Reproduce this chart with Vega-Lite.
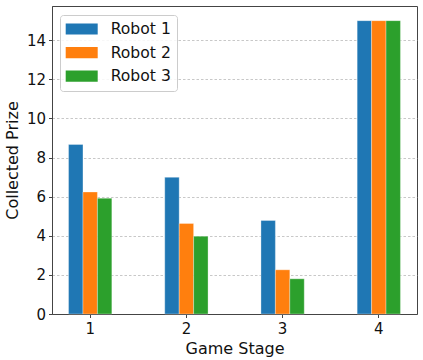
{
  "$schema": "https://vega.github.io/schema/vega-lite/v6.json",
  "width": 365,
  "height": 308,
  "autosize": "none",
  "padding": {"left": 52, "top": 6, "right": 6, "bottom": 46},
  "config": {
    "font": "DejaVu Sans",
    "view": {"stroke": "#444", "strokeWidth": 1},
    "axis": {
      "labelFont": "DejaVu Sans",
      "titleFont": "DejaVu Sans",
      "labelFontSize": 15,
      "titleFontSize": 16,
      "titleFontWeight": "normal",
      "labelColor": "#111",
      "titleColor": "#111",
      "tickColor": "#444",
      "tickSize": 3.5,
      "domainColor": "#444",
      "labelPadding": 3
    }
  },
  "data": {
    "values": [
      {"stage": "1", "robot": "Robot 1", "prize": 8.67},
      {"stage": "1", "robot": "Robot 2", "prize": 6.24},
      {"stage": "1", "robot": "Robot 3", "prize": 5.92},
      {"stage": "2", "robot": "Robot 1", "prize": 6.99},
      {"stage": "2", "robot": "Robot 2", "prize": 4.63},
      {"stage": "2", "robot": "Robot 3", "prize": 3.98},
      {"stage": "3", "robot": "Robot 1", "prize": 4.78},
      {"stage": "3", "robot": "Robot 2", "prize": 2.26},
      {"stage": "3", "robot": "Robot 3", "prize": 1.8},
      {"stage": "4", "robot": "Robot 1", "prize": 15},
      {"stage": "4", "robot": "Robot 2", "prize": 15},
      {"stage": "4", "robot": "Robot 3", "prize": 15}
    ]
  },
  "mark": {"type": "bar", "stroke": "#ffffff", "strokeOpacity": 0.4, "strokeWidth": 0.8},
  "encoding": {
    "x": {
      "field": "stage",
      "type": "ordinal",
      "scale": {"paddingInner": 0.55, "paddingOuter": 0.172},
      "axis": {"title": "Game Stage", "labelAngle": 0, "grid": false, "titlePadding": 4, "labelPadding": 4}
    },
    "xOffset": {
      "field": "robot",
      "type": "nominal",
      "scale": {"paddingInner": 0, "paddingOuter": 0}
    },
    "y": {
      "field": "prize",
      "type": "quantitative",
      "scale": {"domain": [0, 15.75], "nice": false, "zero": true},
      "axis": {
        "title": "Collected Prize",
        "values": [0, 2, 4, 6, 8, 10, 12, 14],
        "grid": true,
        "gridColor": "#b0b0b0",
        "gridDash": [2.5, 2],
        "gridWidth": 0.7,
        "titlePadding": 6
      }
    },
    "color": {
      "field": "robot",
      "type": "nominal",
      "scale": {"range": ["#1f77b4", "#ff7f0e", "#2ca02c"]},
      "legend": {
        "title": null,
        "orient": "none",
        "legendX": 8,
        "legendY": 9,
        "symbolType": "M-2,-0.7H2V0.7H-2Z",
        "symbolSize": 256,
        "symbolStrokeWidth": 0,
        "symbolOpacity": 1,
        "symbolOffset": 7.7,
        "labelOffset": 21,
        "labelFontSize": 15.6,
        "labelFont": "DejaVu Sans",
        "labelColor": "#111",
        "rowPadding": 6.6,
        "padding": 6,
        "fillColor": "rgba(255,255,255,0.85)",
        "strokeColor": "#cccccc",
        "cornerRadius": 3
      }
    }
  }
}
